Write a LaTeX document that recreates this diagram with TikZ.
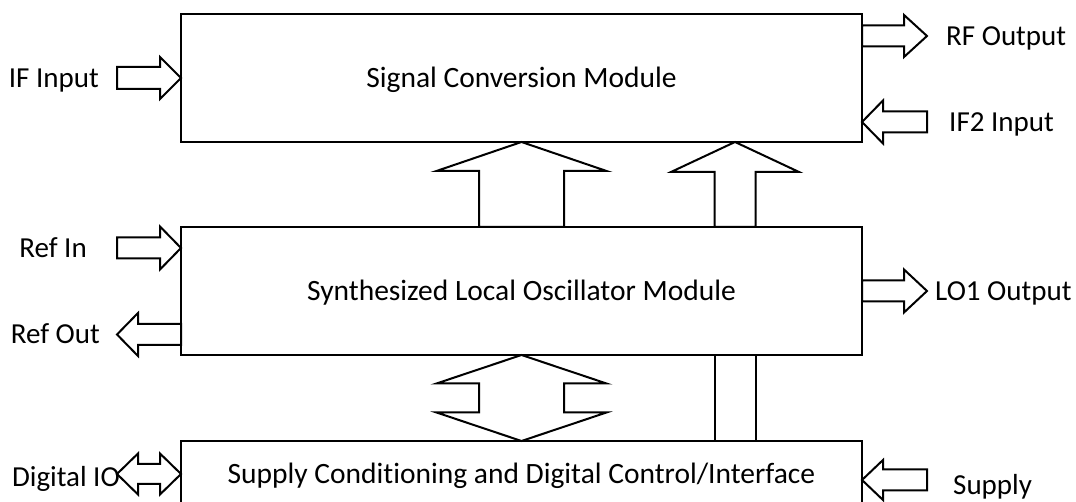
\documentclass[tikz,border=0pt]{standalone}
\usepackage{fontspec}
\setmainfont[Ligatures=NoCommon]{Carlito}
\usepackage{tikz}
\usetikzlibrary{positioning,calc}

\begin{document}
\begin{tikzpicture}[
    x=1pt, y=1pt,
    module/.style={draw, line width=2pt, minimum width=681pt, minimum height=128pt,
                   inner sep=0pt, outer sep=0pt, font=\fontsize{29.5}{34}\selectfont,
                   text height=19pt, text depth=0pt},
    lbl/.style={inner sep=0pt, font=\fontsize{29}{34}\selectfont,
                text height=18.7pt, text depth=0pt},
    hollow/.style={draw, line width=2pt},
    % #1 = half shaft width, #2 = half head width, #3 = head length
    fat arrow/.style n args={3}{to path={
        let \p1=($(\tikztotarget)!#3!(\tikztostart)$) in
        ($(\tikztostart)!#1!90:(\tikztotarget)$) -- ($(\p1)!#1!90:(\tikztotarget)$)
        -- ($(\p1)!#2!90:(\tikztotarget)$) -- (\tikztotarget)
        -- ($(\p1)!#2!-90:(\tikztotarget)$) -- ($(\p1)!#1!-90:(\tikztotarget)$)
        -- ($(\tikztostart)!#1!-90:(\tikztotarget)$) -- cycle}},
    fat double arrow/.style n args={3}{to path={
        let \p1=($(\tikztotarget)!#3!(\tikztostart)$),
            \p2=($(\tikztostart)!#3!(\tikztotarget)$) in
        (\tikztostart) -- ($(\p2)!#2!90:(\tikztotarget)$) -- ($(\p2)!#1!90:(\tikztotarget)$)
        -- ($(\p1)!#1!90:(\tikztotarget)$) -- ($(\p1)!#2!90:(\tikztotarget)$) -- (\tikztotarget)
        -- ($(\p1)!#2!-90:(\tikztotarget)$) -- ($(\p1)!#1!-90:(\tikztotarget)$)
        -- ($(\p2)!#1!-90:(\tikztotarget)$) -- ($(\p2)!#2!-90:(\tikztotarget)$) -- cycle}},
    fat bar/.style={to path={
        ($(\tikztostart)!#1!90:(\tikztotarget)$) -- ($(\tikztotarget)!#1!-90:(\tikztostart)$)
        -- ($(\tikztotarget)!#1!90:(\tikztostart)$) -- ($(\tikztostart)!#1!-90:(\tikztotarget)$)
        -- cycle}},
]
\useasboundingbox (0,0) rectangle (1076,502);
\clip (0,0) rectangle (1076,502);

\node[module] (conv) at (521.5,424) {Signal Conversion Module};
\node[module, below=85pt of conv] (lo) {Synthesized Local Oscillator Module};
\node[module, minimum height=66pt, below=86pt of lo] (ctrl)
    {Supply Conditioning and Digital Control/Interface};

% conversion module ports
\coordinate (ifin) at ($(conv.west)+(-64,0)$);
\coordinate (rfout) at ($(conv.east)+(65,42)$);
\coordinate (if2in) at ($(conv.east)+(65,-44)$);
\coordinate (if2tip) at (conv.east |- if2in);
\draw[hollow] (ifin) to[fat arrow={11pt}{21pt}{21pt}] (conv.west);
\draw[hollow] (conv.east |- rfout) to[fat arrow={10.5pt}{21pt}{23pt}] (rfout);
\draw[hollow] (if2in) to[fat arrow={10.5pt}{21.5pt}{21pt}] (if2tip);
\node[lbl, left=18pt of ifin] (ifinlbl) {IF Input};
\node[lbl, right=19pt of rfout] (rfoutlbl) {RF Output};
\node[lbl, right=22pt of if2in] (if2inlbl) {IF2 Input};

% LO module ports
\coordinate (refin) at ($(lo.west)+(-64,43)$);
\coordinate (refintip) at (lo.west |- refin);
\coordinate (refout) at ($(lo.west)+(-64,-43.5)$);
\coordinate (lo1out) at ($(lo.east)+(65,0)$);
\draw[hollow] (refin) to[fat arrow={10.5pt}{21.5pt}{21pt}] (refintip);
\draw[hollow] (lo.west |- refout) to[fat arrow={10.5pt}{21.5pt}{21pt}] (refout);
\draw[hollow] (lo.east) to[fat arrow={10.5pt}{21.5pt}{23pt}] (lo1out);
\node[lbl, left=30pt of refin] (refinlbl) {Ref In};
\node[lbl, left=17pt of refout] (refoutlbl) {Ref Out};
\node[lbl, right=8pt of lo1out] (lo1outlbl) {LO1 Output};

% control module ports
\coordinate (dio) at ($(ctrl.west)+(-64,0)$);
\coordinate (supply) at ($(ctrl.east)+(65,-6)$);
\coordinate (supplytip) at (ctrl.east |- supply);
\draw[hollow] (dio) to[fat double arrow={10pt}{20.5pt}{21pt}] (ctrl.west);
\draw[hollow] (supply) to[fat arrow={10.5pt}{20pt}{21pt}] (supplytip);
\node[lbl, left=-3pt of dio, yshift=-3pt] (diolbl) {Digital IO};
\node[lbl, right=26pt of supply, yshift=-5pt] (supplylbl) {Supply};

% links between modules
\coordinate (lotap) at ($(lo.north)+(213.5,0)$);
\coordinate (convtap) at ($(conv.south)+(213.5,0)$);
\coordinate (ctrltap) at ($(ctrl.north)+(213.5,0)$);
\coordinate (lobot) at ($(lo.south)+(213.5,0)$);
\draw[hollow] (lo.north) to[fat arrow={42.5pt}{85pt}{29pt}] (conv.south);
\draw[hollow] (lotap) to[fat arrow={20.5pt}{64pt}{30pt}] (convtap);
\draw[hollow] (ctrl.north) to[fat double arrow={42.5pt}{85pt}{28.5pt}] (lo.south);
\draw[hollow] (ctrltap) to[fat bar=20.5pt] (lobot);
\end{tikzpicture}
\end{document}
